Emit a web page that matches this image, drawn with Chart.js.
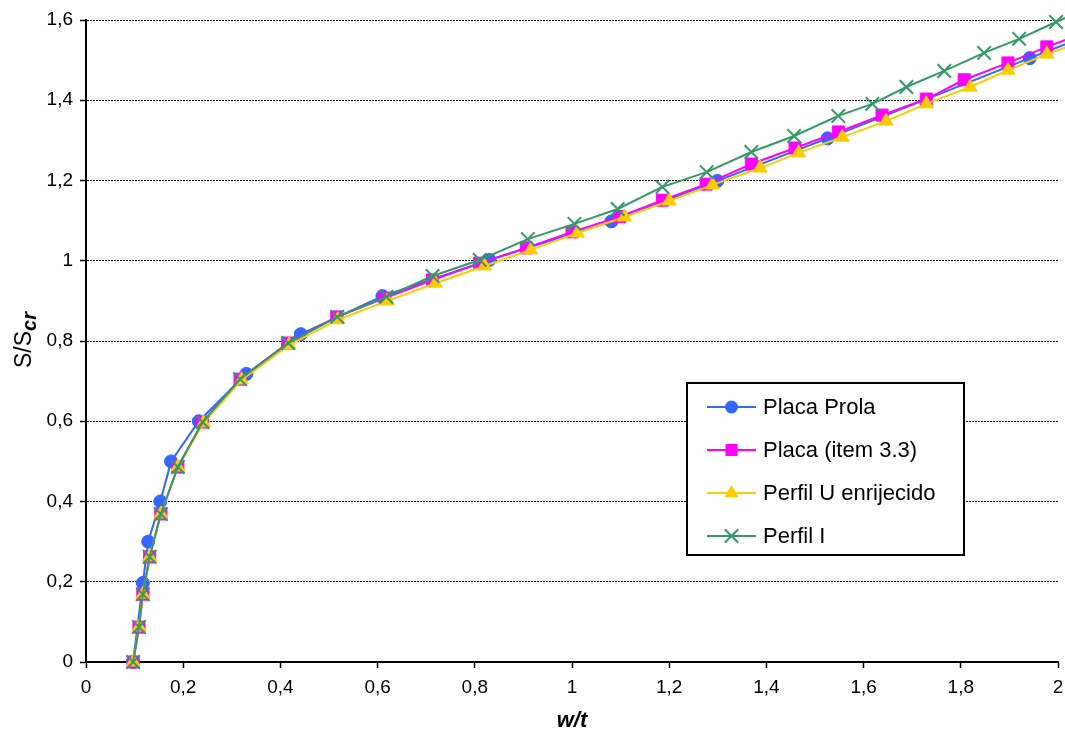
<!DOCTYPE html>
<html><head><meta charset="utf-8">
<script src="https://cdn.jsdelivr.net/npm/chart.js@4/dist/chart.umd.min.js"></script>
<style>html,body{margin:0;padding:0;background:#fff;}canvas{display:block;}</style>
</head><body>
<canvas id="c" width="1065" height="736"></canvas>
<script>
const seriesNames = ['Placa Prola', 'Placa (item 3.3)', 'Perfil U enrijecido', 'Perfil I'];

const prolaX = [0.097, 0.117, 0.128, 0.153, 0.175, 0.232, 0.330, 0.442, 0.610, 0.830, 1.081, 1.299, 1.526, 1.942, 2.100];
const prolaY = [0, 0.197, 0.300, 0.400, 0.500, 0.600, 0.718, 0.817, 0.912, 1.002, 1.098, 1.199, 1.305, 1.505, 1.580];

const placaX = [0.097, 0.109, 0.117, 0.131, 0.154, 0.189, 0.240, 0.317, 0.415, 0.516, 0.615, 0.713, 0.810, 0.906, 1.000, 1.098, 1.186, 1.276, 1.369, 1.459, 1.548, 1.638, 1.729, 1.807, 1.897, 1.977, 2.070];
const placaY = [0, 0.087, 0.169, 0.262, 0.369, 0.486, 0.598, 0.705, 0.795, 0.860, 0.907, 0.952, 0.994, 1.032, 1.072, 1.110, 1.151, 1.191, 1.241, 1.281, 1.321, 1.363, 1.403, 1.451, 1.493, 1.533, 1.575];

const perfilUX = [0.097, 0.109, 0.117, 0.131, 0.154, 0.189, 0.242, 0.320, 0.418, 0.518, 0.620, 0.719, 0.820, 0.915, 1.011, 1.108, 1.200, 1.289, 1.387, 1.466, 1.556, 1.646, 1.729, 1.819, 1.897, 1.977, 2.070];
const perfilUY = [0, 0.087, 0.169, 0.262, 0.369, 0.486, 0.596, 0.703, 0.790, 0.853, 0.900, 0.944, 0.987, 1.027, 1.069, 1.109, 1.149, 1.189, 1.231, 1.269, 1.308, 1.348, 1.391, 1.433, 1.475, 1.515, 1.555];

const perfilIX = [0.097, 0.109, 0.117, 0.131, 0.154, 0.189, 0.240, 0.317, 0.416, 0.517, 0.618, 0.713, 0.810, 0.909, 1.005, 1.094, 1.186, 1.277, 1.369, 1.457, 1.548, 1.618, 1.688, 1.766, 1.848, 1.920, 1.996, 2.080];
const perfilIY = [0, 0.087, 0.169, 0.262, 0.369, 0.486, 0.598, 0.705, 0.795, 0.860, 0.910, 0.962, 1.002, 1.054, 1.092, 1.129, 1.184, 1.221, 1.271, 1.311, 1.361, 1.391, 1.433, 1.473, 1.518, 1.553, 1.595, 1.640];

const xTickValues = [0, 0.2, 0.4, 0.6, 0.8, 1, 1.2, 1.4, 1.6, 1.8, 2];
const yTickValues = [0, 0.2, 0.4, 0.6, 0.8, 1, 1.2, 1.4, 1.6];
const xAxisTitle = 'w/t';
const yAxisTitleMain = 'S/S';
const yAxisTitleSub = 'cr';

const FONT = '"Liberation Sans", Arial, sans-serif';
const colors = ['#3366FF', '#FF00FF', '#FFCC00', '#339966'];
const styles = ['circle', 'rect', 'triangle', 'crossRot'];
const radii = [6.5, 8.5, 8, 9.5];

function pts(xs, ys) { return xs.map((x, i) => ({x: x, y: ys[i]})); }
const seriesData = [pts(prolaX, prolaY), pts(placaX, placaY), pts(perfilUX, perfilUY), pts(perfilIX, perfilIY)];

const fmt = v => { const r = Math.round(v * 10) / 10; return String(r).replace('.', ','); };

function drawMarker(ctx, style, r, x, y, color) {
  ctx.save();
  ctx.fillStyle = color; ctx.strokeStyle = color; ctx.lineWidth = style === 'crossRot' ? 2 : 1;
  ctx.beginPath();
  if (style === 'circle') { ctx.arc(x, y, r, 0, Math.PI * 2); ctx.fill(); }
  else if (style === 'rect') { const s = Math.SQRT1_2 * r; ctx.rect(x - s, y - s, 2 * s, 2 * s); ctx.fill(); }
  else if (style === 'triangle') {
    ctx.moveTo(x, y - r);
    ctx.lineTo(x + Math.sin(2 * Math.PI / 3) * r, y - Math.cos(2 * Math.PI / 3) * r);
    ctx.lineTo(x + Math.sin(4 * Math.PI / 3) * r, y - Math.cos(4 * Math.PI / 3) * r);
    ctx.closePath(); ctx.fill();
  } else {
    const o = Math.SQRT1_2 * r;
    ctx.moveTo(x - o, y - o); ctx.lineTo(x + o, y + o);
    ctx.moveTo(x - o, y + o); ctx.lineTo(x + o, y - o);
    ctx.stroke();
  }
  ctx.restore();
}

const overlay = {
  id: 'overlay',
  afterDraw(chart) {
    const ctx = chart.ctx;
    // y axis title
    ctx.save();
    ctx.translate(25, 340);
    ctx.rotate(-Math.PI / 2);
    ctx.fillStyle = '#000';
    ctx.textBaseline = 'middle';
    ctx.textAlign = 'left';
    ctx.font = '23px ' + FONT;
    const mw = ctx.measureText(yAxisTitleMain).width;
    ctx.font = 'italic bold 20px ' + FONT;
    const sw = ctx.measureText(yAxisTitleSub).width;
    const start = -(mw + sw) / 2;
    ctx.font = '23px ' + FONT;
    ctx.fillText(yAxisTitleMain, start, 0);
    ctx.font = 'italic bold 20px ' + FONT;
    ctx.fillText(yAxisTitleSub, start + mw, 5);
    ctx.restore();

    // legend
    ctx.save();
    ctx.fillStyle = '#fff';
    ctx.fillRect(687, 383, 277, 172);
    ctx.strokeStyle = '#000';
    ctx.lineWidth = 2;
    ctx.strokeRect(687, 383, 277, 172);
    for (let i = 0; i < seriesNames.length; i++) {
      const y = 407 + 43 * i;
      ctx.strokeStyle = colors[i];
      ctx.lineWidth = 2;
      ctx.beginPath(); ctx.moveTo(707, y); ctx.lineTo(756, y); ctx.stroke();
      drawMarker(ctx, styles[i], radii[i], 731.5, y, colors[i]);
      ctx.fillStyle = '#000';
      ctx.font = '22px ' + FONT;
      ctx.textBaseline = 'middle';
      ctx.textAlign = 'left';
      ctx.fillText(seriesNames[i], 763, y + 1);
    }
    ctx.restore();
  }
};

const order = [3, 2, 1, 0];
const datasets = seriesNames.map((name, i) => ({
  label: name,
  data: seriesData[i],
  borderColor: colors[i],
  backgroundColor: colors[i],
  borderWidth: 2,
  pointStyle: styles[i],
  pointRadius: radii[i],
  pointBorderWidth: styles[i] === 'crossRot' ? 2 : 1,
  pointBorderColor: colors[i],
  pointBackgroundColor: colors[i],
  tension: 0,
  fill: false,
  clip: false,
  order: order[i]
}));

new Chart(document.getElementById('c'), {
  type: 'line',
  data: { datasets },
  plugins: [overlay],
  options: {
    responsive: false,
    animation: false,
    devicePixelRatio: 1,
    events: [],
    layout: { autoPadding: false, padding: { left: 0, right: 7, top: 20, bottom: 0 } },
    plugins: { legend: { display: false }, tooltip: { enabled: false } },
    scales: {
      x: {
        type: 'linear', min: 0, max: 2,
        afterBuildTicks: s => { s.ticks = xTickValues.map(v => ({value: v})); },
        afterFit: s => { s.height = 74; s.paddingLeft = 0; s.paddingRight = 0; },
        ticks: { callback: v => fmt(v), color: '#000', font: { family: FONT, size: 19 }, padding: 8, maxRotation: 0, autoSkip: false },
        grid: { display: true, drawOnChartArea: false, drawTicks: true, tickLength: 6, tickColor: '#000', tickWidth: 1.5 },
        border: { display: true, color: '#000', width: 2 },
        title: { display: true, text: xAxisTitle, color: '#000', font: { family: FONT, size: 22, weight: 'bold', style: 'italic' }, padding: { top: 0, bottom: 2 } }
      },
      y: {
        type: 'linear', min: 0, max: 1.6,
        afterBuildTicks: s => { s.ticks = yTickValues.map(v => ({value: v})); },
        afterFit: s => { s.width = 86; s.paddingTop = 0; s.paddingBottom = 0; },
        ticks: { callback: v => fmt(v), color: '#000', font: { family: FONT, size: 19 }, padding: 7, autoSkip: false },
        grid: { display: true, drawOnChartArea: true, drawTicks: true, tickLength: 6, color: '#000', lineWidth: 1, tickColor: '#000', tickWidth: 1.5, tickBorderDash: [] },
        border: { display: true, color: '#000', width: 2, dash: [2, 1] }
      }
    }
  }
});
</script>
</body></html>
